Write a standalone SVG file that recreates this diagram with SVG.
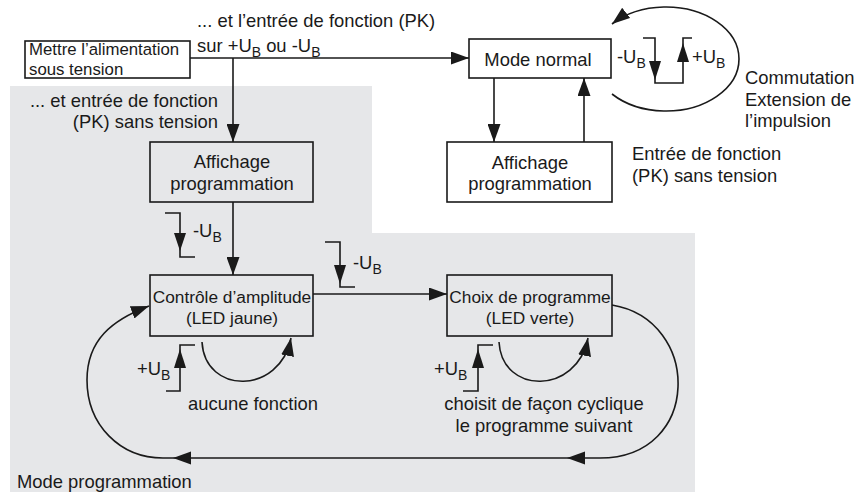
<svg xmlns="http://www.w3.org/2000/svg" width="855" height="492" viewBox="0 0 855 492">
<defs>
<marker id="ah" markerUnits="userSpaceOnUse" markerWidth="19" markerHeight="13" refX="18" refY="6.5" orient="auto">
<path d="M0,0 L18,6.5 L0,13 Z" fill="#1a1a1a"/>
</marker>
<style>
text{font-family:"Liberation Sans",Arial,sans-serif;font-size:18.4px;fill:#1a1a1a}
.s{font-size:17.3px}
.m{font-size:16.8px}
.sub{font-size:14px}
.box{fill:none;stroke:#1a1a1a;stroke-width:1.6}
.wbox{fill:#ffffff;stroke:#1a1a1a;stroke-width:1.6}
.ln{fill:none;stroke:#1a1a1a;stroke-width:1.6}
.arr{fill:none;stroke:#1a1a1a;stroke-width:1.6;marker-end:url(#ah)}
.tri{fill:#1a1a1a}
.c{text-anchor:middle}
</style>
</defs>
<rect width="855" height="492" fill="#ffffff"/>
<path id="grey" d="M10 86 L372 86 L372 233 L695 233 L695 492 L10 492 Z" fill="#e6e7e9"/>

<g id="connectors">
<path class="arr" d="M190 58 L469 58"/>
<path class="arr" d="M233 58 L233 142"/>
<path class="arr" d="M233 202 L233 275"/>
<path class="arr" d="M313 294 L447 294"/>
<path class="arr" d="M494 78 L494 142"/>
<path class="arr" d="M584 142 L584 78"/>
<path class="ln" d="M612 305 C702 320, 702 458, 600 458 L163 458"/>
<path class="tri" d="M567 458 L585 451.5 L585 464.5 Z"/>
<path class="tri" d="M173 458 L191 451.5 L191 464.5 Z"/>
<path class="arr" d="M163 458 C120 458, 87 425, 87 380 C87 340, 112 320, 149 306"/>
<path class="arr" d="M202 342 C205 395, 280 395, 291 338"/>
<path class="arr" d="M499 342 C502 395, 577 395, 588 338"/>
<path class="arr" d="M612 94 A73 52 0 1 0 612 24"/>
</g>

<g id="symbols">
<path class="ln" d="M165 213 L180 213 L180 257 L195 257"/>
<path class="tri" d="M174 233 L186 233 L180 251 Z"/>
<path class="ln" d="M325 242 L340 242 L340 287 L355 287"/>
<path class="tri" d="M334 265 L346 265 L340 284 Z"/>
<path class="ln" d="M195 345 L180 345 L180 391 L166 391"/>
<path class="tri" d="M174 368 L186 368 L180 349 Z"/>
<path class="ln" d="M493 345 L478 345 L478 391 L463 391"/>
<path class="tri" d="M472 368 L484 368 L478 349 Z"/>
<path class="ln" d="M643 38 L655 38 L655 83 L683 83 L683 38 L692 38"/>
<path class="tri" d="M649 61 L661 61 L655 80 Z"/>
<path class="tri" d="M677 62 L689 62 L683 43 Z"/>
</g>

<g id="n-mettre">
<rect class="wbox" x="25" y="41" width="165" height="37"/>
<text class="m" x="29" y="55">Mettre l’alimentation</text>
<text class="m" x="29" y="75">sous tension</text>
</g>
<g id="n-affichage1">
<rect class="box" x="150" y="142" width="163" height="60"/>
<text class="c" x="232" y="168">Affichage</text>
<text class="c" x="232" y="190">programmation</text>
</g>
<g id="n-controle">
<rect class="box" x="150" y="275" width="163" height="61"/>
<text class="s c" x="232" y="303">Contrôle d’amplitude</text>
<text class="s c" x="232" y="324">(LED jaune)</text>
</g>
<g id="n-choix">
<rect class="box" x="447" y="275" width="165" height="61"/>
<text class="s c" x="530" y="303">Choix de programme</text>
<text class="s c" x="530" y="324">(LED verte)</text>
</g>
<g id="n-mode">
<rect class="wbox" x="469" y="39" width="142" height="39"/>
<text class="c" x="538" y="66">Mode normal</text>
</g>
<g id="n-affichage2">
<rect class="wbox" x="447" y="142" width="165" height="60"/>
<text class="c" x="530" y="169">Affichage</text>
<text class="c" x="530" y="190">programmation</text>
</g>

<g id="labels">
<text x="197" y="27">... et l’entrée de fonction (PK)</text>
<text x="197" y="52">sur +U<tspan class="sub" dy="5">B</tspan><tspan dy="-5"> ou -U</tspan><tspan class="sub" dy="5">B</tspan></text>
<text x="218" y="107" text-anchor="end">... et entrée de fonction</text>
<text x="218" y="128" text-anchor="end">(PK) sans tension</text>
<text x="193" y="237">-U<tspan class="sub" dy="5">B</tspan></text>
<text x="353" y="269">-U<tspan class="sub" dy="5">B</tspan></text>
<text x="137" y="375">+U<tspan class="sub" dy="5">B</tspan></text>
<text x="434" y="375">+U<tspan class="sub" dy="5">B</tspan></text>
<text class="c" x="253" y="410">aucune fonction</text>
<text class="c" x="544" y="410">choisit de façon cyclique</text>
<text class="c" x="544" y="432">le programme suivant</text>
<text x="17" y="488">Mode programmation</text>
<text x="617" y="63">-U<tspan class="sub" dy="5">B</tspan></text>
<text x="692" y="63">+U<tspan class="sub" dy="5">B</tspan></text>
<text x="745" y="84">Commutation</text>
<text x="745" y="106">Extension de</text>
<text x="745" y="127">l’impulsion</text>
<text x="632" y="160">Entrée de fonction</text>
<text x="632" y="182">(PK) sans tension</text>
</g>
</svg>
